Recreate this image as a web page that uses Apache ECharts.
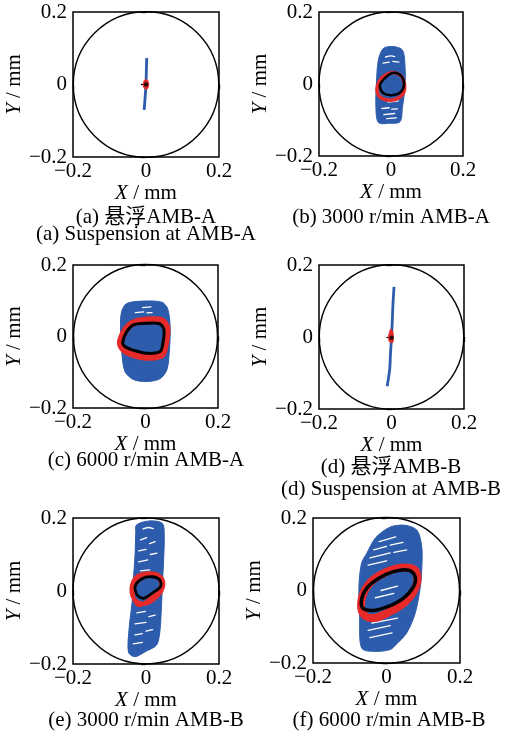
<!DOCTYPE html>
<html><head><meta charset="utf-8">
<script src="https://cdn.jsdelivr.net/npm/echarts@6/dist/echarts.min.js"></script>
<style>html,body{margin:0;padding:0;background:#fff}#c{width:505px;height:736px}</style>
</head><body><div id="c"></div>
<script>
// ---------- data ----------
const axisTicks = [-0.2, 0, 0.2];
const boundaryRadius = 0.2;
const captionsCN = ['(a) 悬浮AMB-A', '(b) 3000 r/min AMB-A', '(c) 6000 r/min AMB-A', '(d) 悬浮AMB-B', '(e) 3000 r/min AMB-B', '(f) 6000 r/min AMB-B'];
const captionsEN = ['(a) Suspension at AMB-A', '', '', '(d) Suspension at AMB-B', '', ''];

// (a) suspension AMB-A
const aBlueTrace = [[0.002,0.073],[0.001,0.040],[0.000,0.000],[-0.002,-0.030],[-0.005,-0.070]];
const aRedOrbit = [[0,0.014],[0.006,0.008],[0.007,-0.004],[0.003,-0.012],[-0.003,-0.012],[-0.007,-0.004],[-0.006,0.008]];
const aBlackOrbit = [[0,0]];

// (b) 3000 r/min AMB-A
const bBlueCloud = [[-0.021,0.099],[0.006,0.104],[0.032,0.094],[0.039,0.048],[0.039,-0.007],[0.032,-0.063],[0.025,-0.105],[-0.003,-0.109],[-0.035,-0.107],[-0.042,-0.063],[-0.040,0.011],[-0.035,0.067]];
const bBlueGaps = [[[-0.015,0.075],[0.000,0.078],[0.010,0.076]],[[-0.022,0.058],[-0.005,0.061]],[[0.005,0.063],[0.022,0.061]],[[-0.008,-0.050],[0.020,-0.047]],[[-0.025,-0.068],[-0.005,-0.066]],[[0.002,-0.070],[0.018,-0.069]],[[-0.020,-0.085],[0.010,-0.082]],[[-0.012,-0.096],[0.015,-0.094]]];
const bRedOrbit = [[-0.038,-0.007],[-0.026,0.016],[0.002,0.031],[0.025,0.025],[0.037,0.002],[0.034,-0.026],[0.011,-0.043],[-0.017,-0.043],[-0.035,-0.031]];
const bBlackOrbit = [[-0.026,0.006],[-0.007,0.025],[0.011,0.031],[0.030,0.020],[0.036,-0.003],[0.025,-0.024],[0.002,-0.031],[-0.021,-0.026],[-0.031,-0.007]];

// (c) 6000 r/min AMB-A
const cBlueCloud = [[-0.052,0.092],[-0.006,0.099],[0.045,0.096],[0.061,0.078],[0.068,0.027],[0.066,-0.037],[0.059,-0.093],[0.040,-0.118],[0.003,-0.126],[-0.034,-0.120],[-0.057,-0.097],[-0.066,-0.037],[-0.069,0.027],[-0.066,0.069]];
const cBlueGaps = [[[-0.008,0.081],[0.015,0.083]],[[-0.028,0.067],[-0.005,0.069]],[[0.004,0.066],[0.018,0.067]]];
const cRedOrbit = [[-0.069,-0.014],[-0.052,0.023],[-0.034,0.038],[0.003,0.046],[0.045,0.044],[0.059,0.023],[0.054,-0.024],[0.045,-0.051],[0.003,-0.058],[-0.043,-0.047],[-0.063,-0.033]];
const cBlackOrbit = [[-0.063,-0.017],[-0.052,0.013],[-0.034,0.032],[0.003,0.037],[0.040,0.035],[0.051,0.018],[0.048,-0.019],[0.040,-0.042],[0.003,-0.047],[-0.038,-0.037],[-0.057,-0.028]];

// (d) suspension AMB-B
const dBlueTrace = [[0.007,0.139],[0.004,0.090],[0.002,0.040],[0.000,0.000],[-0.003,-0.050],[-0.005,-0.090],[-0.012,-0.137]];
const dRedOrbit = [[-0.002,0.022],[0.004,0.012],[0.005,-0.010],[0.002,-0.016],[-0.006,-0.012],[-0.008,0.000],[-0.006,0.012]];
const dBlackOrbit = [[0.000,-0.002]];

// (e) 3000 r/min AMB-B
const eBlueCloud = [[-0.026,0.181],[0.010,0.192],[0.045,0.185],[0.050,0.150],[0.048,0.080],[0.045,0.020],[0.042,-0.050],[0.038,-0.111],[0.029,-0.148],[0.000,-0.165],[-0.030,-0.180],[-0.048,-0.168],[-0.046,-0.100],[-0.038,-0.030],[-0.035,0.025],[-0.030,0.100],[-0.028,0.160]];
const eBlueGaps = [[[-0.008,0.170],[0.005,0.174],[0.020,0.171]],[[-0.015,0.140],[0.002,0.146]],[[0.010,0.130],[0.025,0.135]],[[-0.020,0.110],[0.000,0.114]],[[0.012,0.100],[0.030,0.104]],[[-0.020,0.080],[0.005,0.085]],[[-0.015,0.055],[0.010,0.058]],[[-0.025,-0.060],[-0.002,-0.056]],[[0.008,-0.070],[0.025,-0.066]],[[-0.030,-0.090],[0.000,-0.086]],[[-0.030,-0.120],[-0.010,-0.117]],[[0.000,-0.110],[0.018,-0.106]],[[-0.035,-0.145],[-0.010,-0.141]]];
const eRedOrbit = [[-0.035,0.026],[-0.016,0.044],[0.020,0.048],[0.043,0.035],[0.047,0.012],[0.034,-0.011],[0.002,-0.034],[-0.025,-0.029],[-0.039,-0.006]];
const eRedOrbit2 = [[-0.030,0.015],[-0.010,0.036],[0.022,0.040],[0.040,0.026],[0.036,0.002],[0.010,-0.022],[-0.018,-0.040],[-0.034,-0.020]];
const eBlackOrbit = [[-0.030,0.012],[-0.012,0.033],[0.016,0.039],[0.038,0.030],[0.040,0.012],[0.020,-0.004],[-0.007,-0.020],[-0.024,-0.011]];

// (f) 6000 r/min AMB-B
const fBlueCloud = [[-0.054,0.102],[-0.030,0.145],[0.010,0.175],[0.050,0.180],[0.083,0.166],[0.096,0.120],[0.096,0.060],[0.092,0.010],[0.078,-0.063],[0.055,-0.117],[0.025,-0.150],[0.010,-0.163],[-0.030,-0.168],[-0.064,-0.163],[-0.072,-0.140],[-0.073,-0.081],[-0.075,0.010],[-0.068,0.075]];
const fBlueGaps = [[[-0.020,0.135],[0.025,0.148]],[[-0.035,0.112],[0.000,0.122]],[[0.010,0.125],[0.045,0.133]],[[-0.045,0.090],[0.010,0.104]],[[0.020,0.105],[0.055,0.112]],[[-0.050,0.070],[0.000,0.082]],[[-0.015,0.000],[0.030,0.012]],[[-0.030,-0.020],[0.020,-0.008]],[[-0.040,-0.090],[0.030,-0.076]],[[-0.050,-0.110],[0.010,-0.097]],[[-0.045,-0.130],[0.015,-0.117]]];
const fRedOrbit = [[-0.068,-0.026],[-0.050,0.015],[-0.018,0.042],[0.028,0.061],[0.069,0.061],[0.084,0.042],[0.078,0.006],[0.051,-0.031],[0.010,-0.058],[-0.036,-0.076],[-0.064,-0.063]];
const fBlackOrbit = [[-0.068,-0.026],[-0.054,0.006],[-0.022,0.033],[0.019,0.052],[0.060,0.056],[0.078,0.038],[0.073,0.010],[0.046,-0.021],[0.005,-0.044],[-0.036,-0.055],[-0.064,-0.049]];

// ---------- layout ----------
const grids = [
  {left:73, top:12, width:146, height:145},
  {left:319, top:12, width:144, height:144},
  {left:73, top:265, width:145, height:143},
  {left:319, top:265, width:145, height:144},
  {left:73, top:518, width:146, height:146},
  {left:313, top:518, width:147, height:145}
];
const captionPos = [[146,217,234],[391,217,null],[146,460,null],[391,467,489],[146,720,null],[389,720,null]];

const FONT = '"Liberation Serif", "Times New Roman", "Noto Sans CJK SC", serif';
const FS = 21;
const BLUE = '#2c5cab', RED = '#e62a2a', BLACK = '#000';

const fmt = v => (Math.abs(v) < 1e-9 ? '0' : String(v).replace('-', '\u2212'));

const xAxes = [], yAxes = [], series = [];
grids.forEach((g, i) => {
  xAxes.push({gridIndex:i, type:'value', min:axisTicks[0], max:axisTicks[2], interval:0.2,
    axisLine:{show:false}, splitLine:{show:false},
    axisTick:{show:true, length:5, lineStyle:{color:'#000', width:1.3}},
    axisLabel:{formatter:fmt, color:'#000', fontFamily:FONT, fontSize:FS, margin:4},
    name:'{i|X} / mm', nameLocation:'middle', nameGap:26,
    nameTextStyle:{color:'#000', fontFamily:FONT, fontSize:FS, rich:{i:{fontStyle:'italic', fontFamily:FONT, fontSize:FS, color:'#000'}}}
  });
  yAxes.push({gridIndex:i, type:'value', min:axisTicks[0], max:axisTicks[2], interval:0.2,
    axisLine:{show:false}, splitLine:{show:false},
    axisTick:{show:true, length:5, lineStyle:{color:'#000', width:1.3}},
    axisLabel:{formatter:fmt, color:'#000', fontFamily:FONT, fontSize:FS, margin:6},
    name:'{i|Y} / mm', nameLocation:'middle', nameGap:46, nameRotate:90,
    nameTextStyle:{color:'#000', fontFamily:FONT, fontSize:FS, rich:{i:{fontStyle:'italic', fontFamily:FONT, fontSize:FS, color:'#000'}}}
  });
});

function poly(i, pts, style, smooth, closed, z) {
  series.push({type:'custom', xAxisIndex:i, yAxisIndex:i, data:[[0,0]], silent:true, z:z, clip:false,
    renderItem:(p, api) => ({type: closed ? 'polygon' : 'polyline',
      shape:{points: pts.map(q => api.coord(q)), smooth: smooth},
      style: style})
  });
}
function dot(i, pts, size, color, z) {
  series.push({type:'scatter', xAxisIndex:i, yAxisIndex:i, data:pts, symbolSize:size, itemStyle:{color:color}, silent:true, z:z});
}
function boundary(i) {
  series.push({type:'custom', xAxisIndex:i, yAxisIndex:i, data:[[0,0]], silent:true, z:10, clip:false,
    renderItem:(p, api) => {
      const c = api.coord([0,0]);
      const s = api.size([boundaryRadius, boundaryRadius]);
      return {type:'circle', shape:{cx:c[0], cy:c[1], r:(s[0]+s[1])/2}, style:{fill:'none', stroke:'#000', lineWidth:1.4}};
    }});
}
const gapStyle = {fill:'none', stroke:'#fff', lineWidth:1.3, lineCap:'round'};

// (a)
boundary(0);
poly(0, aBlueTrace, {fill:'none', stroke:BLUE, lineWidth:2.8}, 0.3, false, 2);
poly(0, aRedOrbit, {fill:RED, stroke:RED, lineWidth:1}, 0.4, true, 3);
dot(0, aBlackOrbit, 4.5, BLACK, 4);
// (b)
boundary(1);
poly(1, bBlueCloud, {fill:BLUE, stroke:BLUE, lineWidth:1}, 0.3, true, 2);
bBlueGaps.forEach(g => poly(1, g, gapStyle, 0.3, false, 2.5));
poly(1, bRedOrbit, {fill:'none', stroke:RED, lineWidth:3.5}, 0.4, true, 3);
poly(1, bBlackOrbit, {fill:'none', stroke:BLACK, lineWidth:2.5}, 0.3, true, 4);
// (c)
boundary(2);
poly(2, cBlueCloud, {fill:BLUE, stroke:BLUE, lineWidth:1}, 0.3, true, 2);
cBlueGaps.forEach(g => poly(2, g, gapStyle, 0.3, false, 2.5));
poly(2, cRedOrbit, {fill:'none', stroke:RED, lineWidth:7}, 0.3, true, 3);
poly(2, cBlackOrbit, {fill:'none', stroke:BLACK, lineWidth:3}, 0.3, true, 4);
// (d)
boundary(3);
poly(3, dBlueTrace, {fill:'none', stroke:BLUE, lineWidth:2.8}, 0.3, false, 2);
poly(3, dRedOrbit, {fill:RED, stroke:RED, lineWidth:1}, 0.4, true, 3);
dot(3, dBlackOrbit, 4.5, BLACK, 4);
// (e)
boundary(4);
poly(4, eBlueCloud, {fill:BLUE, stroke:BLUE, lineWidth:1}, 0.3, true, 2);
eBlueGaps.forEach(g => poly(4, g, gapStyle, 0.3, false, 2.5));
poly(4, eRedOrbit, {fill:'none', stroke:RED, lineWidth:4}, 0.3, true, 3);
poly(4, eRedOrbit2, {fill:'none', stroke:RED, lineWidth:3.5}, 0.3, true, 3);
poly(4, eBlackOrbit, {fill:'none', stroke:BLACK, lineWidth:2.8}, 0.3, true, 4);
// (f)
boundary(5);
poly(5, fBlueCloud, {fill:BLUE, stroke:BLUE, lineWidth:1}, 0.3, true, 2);
fBlueGaps.forEach(g => poly(5, g, gapStyle, 0.3, false, 2.5));
poly(5, fRedOrbit, {fill:'none', stroke:RED, lineWidth:8}, 0.4, true, 3);
poly(5, fBlackOrbit, {fill:'none', stroke:BLACK, lineWidth:3.5}, 0.4, true, 4);

const graphics = [];
captionPos.forEach((p, i) => {
  graphics.push({type:'text', x:p[0], y:p[1], silent:true, style:{text:captionsCN[i], font:FS + 'px ' + FONT, fill:'#000', align:'center', verticalAlign:'middle'}});
  if (captionsEN[i]) graphics.push({type:'text', x:p[0], y:p[2], silent:true, style:{text:captionsEN[i], font:FS + 'px ' + FONT, fill:'#000', align:'center', verticalAlign:'middle'}});
});

const chart = echarts.init(document.getElementById('c'), null, {renderer:'canvas'});
chart.setOption({
  animation:false,
  backgroundColor:'#fff',
  grid: grids.map(g => Object.assign({show:true, borderColor:'#000', borderWidth:1.5, backgroundColor:'transparent'}, g)),
  xAxis: xAxes, yAxis: yAxes, series: series, graphic: graphics
});
</script></body></html>
